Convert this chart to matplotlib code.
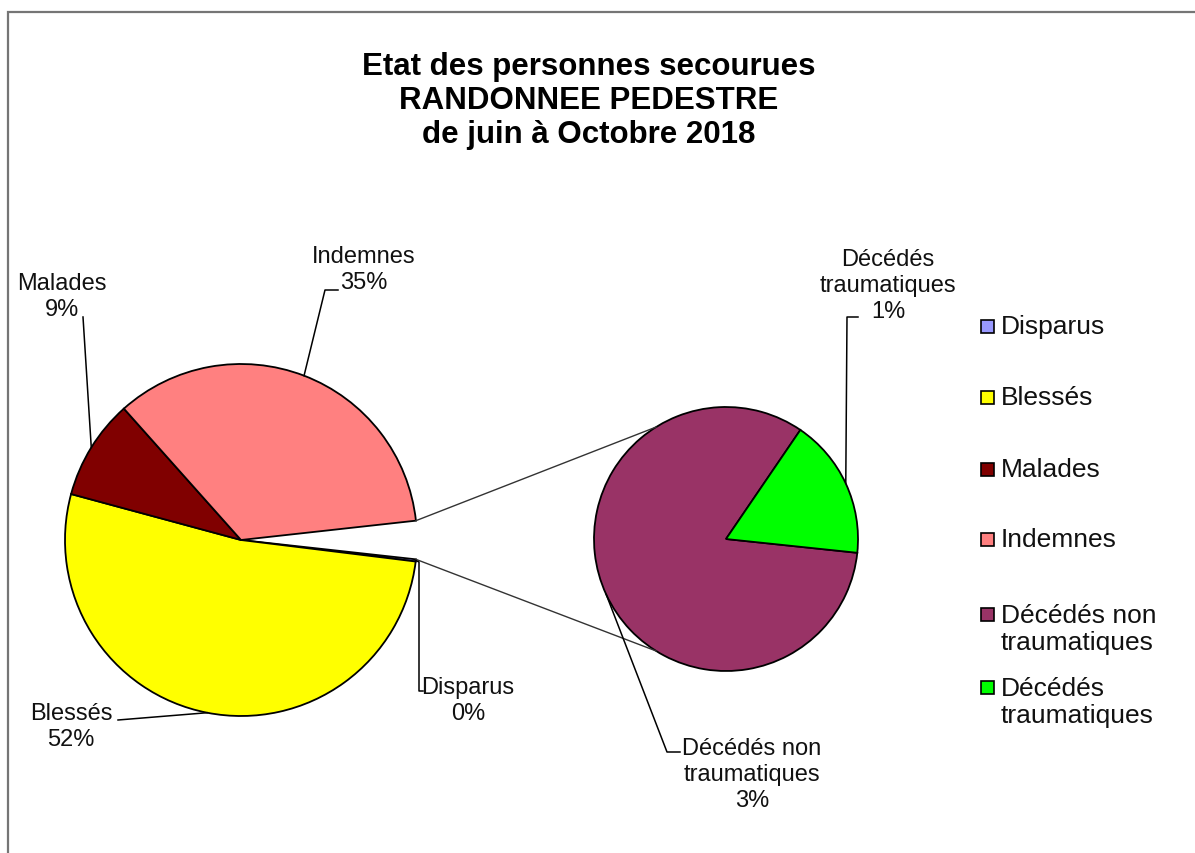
import numpy as np
import matplotlib.pyplot as plt

plt.rcParams['font.family'] = ['Liberation Sans', 'DejaVu Sans']

W, H = 1195, 854

# parts in % of all people rescued
main_labels = ['Disparus', 'Blessés', 'Malades', 'Indemnes']
main_values = [0.2, 52.2, 9.2, 34.8]
sub_labels = ['Décédés non\ntraumatiques', 'Décédés\ntraumatiques']
sub_values = [2.9, 0.6]
main_colors = ['#9999FF', '#FFFF00', '#800000', '#FF8080']
sub_colors = ['#993366', '#00FF00']

title = 'Etat des personnes secourues\nRANDONNEE PEDESTRE\nde juin à Octobre 2018'

total = sum(main_values) + sum(sub_values)
other = sum(sub_values)


def P(x, y):
    # picture coords (y down) -> axes coords (y up)
    return x, H - y


fig = plt.figure(figsize=(W / 100, H / 100), dpi=100)
ax = fig.add_axes([0, 0, 1, 1])

c1, r1 = P(241, 541), 176
c2, r2 = P(726, 540), 132
edge = dict(edgecolor='black', linewidth=1.3)

w1, _ = ax.pie(main_values + [other], colors=main_colors + ['none'],
               radius=r1, center=c1, startangle=-other / total * 180,
               counterclock=False, wedgeprops=edge)
w1[-1].set_edgecolor('none')
w2, _ = ax.pie(sub_values, colors=sub_colors, radius=r2, center=c2,
               startangle=-6, counterclock=False, wedgeprops=edge)


def on_edge(w, c, r):
    a = np.deg2rad((w.theta1 + w.theta2) / 2)
    return c[0] + r * np.cos(a), c[1] + r * np.sin(a)


# lines joining the "other" slice to the second pie
wo = w1[-1]
for t1, t2 in [(wo.theta2, 122), (wo.theta1, -122)]:
    a1, a2 = np.deg2rad(t1), np.deg2rad(t2)
    ax.plot([c1[0] + r1 * np.cos(a1), c2[0] + r2 * np.cos(a2)],
            [c1[1] + r1 * np.sin(a1), c2[1] + r2 * np.sin(a2)],
            color='#333333', lw=1.0)

# data labels: text centre and leader points (picture coords)
lab_pos = {
    'Disparus': ((468, 701), [(423, 692), (419, 692), (419, 563)]),
    'Blessés': ((71, 727), [(118, 721)]),
    'Malades': ((62, 297), [(83, 318)]),
    'Indemnes': ((364, 270), [(338, 291), (325, 291)]),
}
sub_pos = [((752, 775), [(680, 753), (667, 753)]),
           ((888, 286), [(858, 318), (847, 318)])]

items = [(main_labels[i], main_values[i], w1[i], c1, r1) + lab_pos[main_labels[i]]
         for i in range(4)]
items += [(sub_labels[i], sub_values[i], w2[i], c2, r2) + sub_pos[i] for i in range(2)]

for name, v, w, c, r, (tx, ty), pts in items:
    ax.text(*P(tx, ty), f'{name}\n{v / total * 100:.0f}%', ha='center', va='center',
            fontsize=17, linespacing=1.25, color='#111111')
    xs = [P(*p)[0] for p in pts] + [on_edge(w, c, r)[0]]
    ys = [P(*p)[1] for p in pts] + [on_edge(w, c, r)[1]]
    ax.plot(xs, ys, color='black', lw=1.1)

# legend
leg_names = main_labels + sub_labels
leg_colors = main_colors + sub_colors
leg_y = [327, 398, 470, 540, 615, 688]
for name, col, y in zip(leg_names, leg_colors, leg_y):
    ax.add_patch(plt.Rectangle(P(981.5, y + 6.5), 13, 13, facecolor=col,
                               edgecolor='black', lw=1.2))
    n = name.count('\n')
    ax.text(*P(1001, y + n * 14.5), name, ha='left', va='center', fontsize=19,
            linespacing=1.15, color='#111111')

ax.text(*P(589, 101), title, ha='center', va='center', fontsize=22.5,
        fontweight='bold', linespacing=1.18)

# chart frame
ax.plot([8, 8, W], [0, H - 13, H - 13], color='#757575', lw=1.6, solid_joinstyle='miter')

ax.set_xlim(0, W)
ax.set_ylim(0, H)
ax.set_aspect('auto')
ax.axis('off')

fig.savefig('out.png', dpi=100)
